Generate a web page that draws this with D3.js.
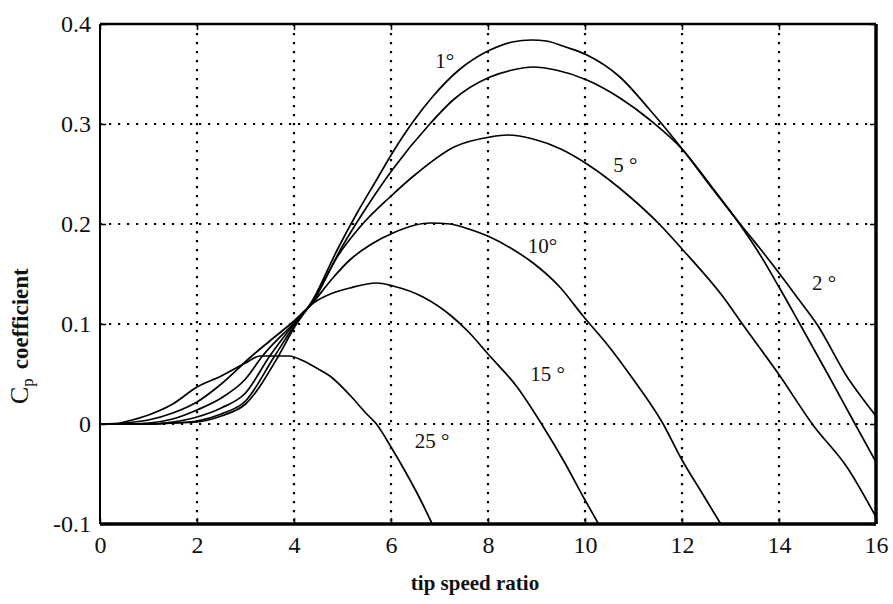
<!DOCTYPE html>
<html>
<head>
<meta charset="utf-8">
<script src="https://cdn.jsdelivr.net/npm/d3@7"></script>
<style>
  body { margin: 0; background: #fff; }
  text { font-family: 'Liberation Serif', 'Times New Roman', serif; fill: #111; }
</style>
</head>
<body>
<div id="chart"></div>
<script>
// Cp vs tip speed ratio, one array per pitch angle: [tsr, cp]
const cp1 = [[0,0],[1,0],[1.5,0.001],[2,0.002],[2.5,0.008],[3,0.02],[3.68,0.068],[4,0.096],[4.4,0.125],[4.89,0.174],
  [5.3,0.211],[5.7,0.244],[6.04,0.272],[6.45,0.302],[6.87,0.328],[7.4,0.354],[8.04,0.374],[8.5,0.382],[8.9,0.384],
  [9.2,0.383],[9.6,0.377],[10.04,0.369],[10.72,0.347],[11.34,0.314],[12.02,0.274],[12.6,0.237],[13.2,0.199],
  [13.6,0.17],[14,0.137],[14.43,0.1],[15.05,0.046],[15.5,0.006],[16,-0.038]]
const cp2 = [[0,0],[1,0],[1.5,0.001],[2,0.003],[2.5,0.01],[3,0.023],[3.6,0.068],[4,0.098],[4.4,0.124],[5,0.178],
  [5.5,0.217],[6.04,0.255],[6.8,0.3],[7.28,0.324],[8.04,0.347],[8.5,0.354],[8.93,0.357],[9.4,0.354],[10.04,0.344],
  [10.72,0.326],[11.34,0.304],[12.02,0.274],[12.6,0.238],[13.2,0.2],[13.6,0.176],[14,0.151],[14.4,0.125],
  [14.78,0.1],[15.42,0.046],[15.73,0.025],[16,0.008]]
const cp5 = [[0,0],[1,0],[1.5,0.002],[2,0.007],[2.5,0.016],[3,0.031],[3.5,0.068],[4,0.1],[4.4,0.123],[4.89,0.167],
  [5.36,0.197],[5.98,0.227],[6.54,0.251],[7.3,0.277],[8.04,0.287],[8.4,0.289],[8.93,0.285],[9.5,0.275],[10.04,0.26],
  [10.93,0.227],[11.55,0.199],[12.02,0.174],[12.85,0.127],[13.26,0.099],[14.02,0.048],[14.7,-0.001],[15.4,-0.043],
  [16,-0.093]]
const cp10 = [[0,0],[0.5,0],[1,0.001],[1.5,0.005],[2,0.014],[2.5,0.026],[3,0.045],[3.35,0.068],[4,0.101],[4.4,0.122],
  [4.8,0.146],[5.15,0.164],[5.6,0.18],[6.04,0.191],[6.5,0.199],[6.8,0.201],[7.22,0.2],[7.6,0.195],[8.04,0.187],
  [8.5,0.175],[8.93,0.161],[9.48,0.137],[9.96,0.108],[10.5,0.077],[10.93,0.049],[11.6,0.001],[12,-0.036],
  [12.4,-0.068],[12.8,-0.1]]
const cp15 = [[0,0],[0.5,0.001],[1,0.004],[1.5,0.011],[2,0.022],[2.5,0.04],[3.13,0.068],[3.5,0.083],[4,0.103],
  [4.4,0.121],[4.8,0.131],[5.15,0.136],[5.7,0.141],[6.04,0.138],[6.66,0.127],[7.22,0.109],[7.6,0.092],[8,0.07],
  [8.6,0.037],[9.13,-0.002],[9.55,-0.036],[10,-0.076],[10.28,-0.1]]
const cp25 = [[0,0],[0.3,0],[0.5,0.002],[1,0.009],[1.5,0.02],[2,0.037],[2.5,0.048],[3,0.061],[3.3,0.068],[3.9,0.068],
  [4.2,0.063],[4.5,0.055],[4.74,0.048],[5.15,0.029],[5.5,0.01],[5.7,0],[6,-0.023],[6.3,-0.048],[6.6,-0.075],[6.85,-0.1]]

const curves = [cp1, cp2, cp5, cp10, cp15, cp25]

// curve annotations, in data units
const labelText = ['1°', '2 °', '5 °', '10°', '15 °', '25 °']
const labelX = [6.91, 14.68, 10.58, 8.82, 8.87, 6.49]
const labelY = [0.356, 0.134, 0.252, 0.171, 0.043, -0.024]

const xTicks = [0, 2, 4, 6, 8, 10, 12, 14, 16]
const yTicks = [-0.1, 0, 0.1, 0.2, 0.3, 0.4]
const yTickLabels = ['-0.1', '0', '0.1', '0.2', '0.3', '0.4']

const margin = { top: 24, right: 17, bottom: 80, left: 100 },
  width = 893 - margin.left - margin.right,
  height = 604 - margin.top - margin.bottom

const svg = d3.select('#chart').append('svg')
  .attr('width', 893)
  .attr('height', 604)

const g = svg.append('g')
  .attr('transform', 'translate(' + margin.left + ',' + margin.top + ')')

const x = d3.scaleLinear().domain([0, 16]).range([0, width])
const y = d3.scaleLinear().domain([-0.1, 0.4]).range([height, 0])

g.append('clipPath').attr('id', 'plot')
  .append('rect').attr('width', width).attr('height', height)

// dotted grid
const grid = g.append('g')
grid.selectAll('.vx')
  .data(xTicks.slice(1, -1))
  .enter().append('line')
  .attr('x1', d => x(d)).attr('x2', d => x(d))
  .attr('y1', 0).attr('y2', height)
grid.selectAll('.hy')
  .data(yTicks.slice(1, -1))
  .enter().append('line')
  .attr('x1', 0).attr('x2', width)
  .attr('y1', d => y(d)).attr('y2', d => y(d))
grid.selectAll('line')
  .attr('stroke', '#000')
  .attr('stroke-width', 2.2)
  .attr('stroke-dasharray', '2.2,6.8')

// axes with small inward ticks
const xAxis = g.append('g')
  .attr('transform', 'translate(0,' + height + ')')
  .call(d3.axisBottom(x).tickValues(xTicks).tickSizeInner(-6).tickSizeOuter(0).tickPadding(16).tickFormat(d3.format('d')))
g.append('g').call(d3.axisTop(x).tickValues(xTicks).tickSizeInner(-6).tickSizeOuter(0).tickFormat(''))
const yAxis = g.append('g')
  .call(d3.axisLeft(y).tickValues(yTicks).tickSizeInner(-6).tickSizeOuter(0).tickPadding(9)
    .tickFormat((d, i) => yTickLabels[i]))
g.append('g').attr('transform', 'translate(' + width + ',0)')
  .call(d3.axisRight(y).tickValues(yTicks).tickSizeInner(-6).tickSizeOuter(0).tickFormat(''))

g.selectAll('.domain').remove()
g.selectAll('.tick line').attr('stroke', '#000').attr('stroke-width', 1.5)
g.selectAll('.tick text')
  .style('font-size', '24px')
  .attr('fill', '#111')
xAxis.selectAll('.tick text').attr('dy', '0.55em')
yAxis.selectAll('.tick text').attr('dy', '0.3em')

// frame
g.append('line').attr('x1', 0).attr('x2', width).attr('y1', 0).attr('y2', 0)
  .attr('stroke', '#000').attr('stroke-width', 2.5)
g.append('line').attr('x1', 0).attr('x2', 0).attr('y1', 0).attr('y2', height)
  .attr('stroke', '#000').attr('stroke-width', 2)
g.append('line').attr('x1', 0).attr('x2', width).attr('y1', height).attr('y2', height)
  .attr('stroke', '#000').attr('stroke-width', 3.5)
g.append('line').attr('x1', width).attr('x2', width).attr('y1', 0).attr('y2', height)
  .attr('stroke', '#000').attr('stroke-width', 3.5)

// curves
const line = d3.line()
  .x(d => x(d[0]))
  .y(d => y(d[1]))
  .curve(d3.curveMonotoneX)

g.append('g').attr('clip-path', 'url(#plot)')
  .selectAll('path')
  .data(curves)
  .enter().append('path')
  .attr('d', line)
  .attr('fill', 'none')
  .attr('stroke', '#000')
  .attr('stroke-width', 1.7)

// curve labels
g.selectAll('.lbl')
  .data(labelText)
  .enter().append('text')
  .attr('class', 'lbl')
  .attr('x', (d, i) => x(labelX[i]))
  .attr('y', (d, i) => y(labelY[i]))
  .style('font-size', '21px')
  .text(d => d)

// axis titles
svg.append('text')
  .attr('x', margin.left + width / 2 - 13)
  .attr('y', 590)
  .attr('text-anchor', 'middle')
  .style('font-size', '21px')
  .style('font-weight', 'bold')
  .text('tip speed ratio')

const yt = svg.append('text')
  .attr('transform', 'translate(28,404) rotate(-90)')
yt.append('tspan').style('font-size', '26px').text('C')
yt.append('tspan').style('font-size', '17px').attr('dy', 5).text('p')
yt.append('tspan').style('font-size', '23px').style('font-weight', 'bold').attr('dy', -5).attr('dx', 9).text('coefficient')
</script>
</body>
</html>
